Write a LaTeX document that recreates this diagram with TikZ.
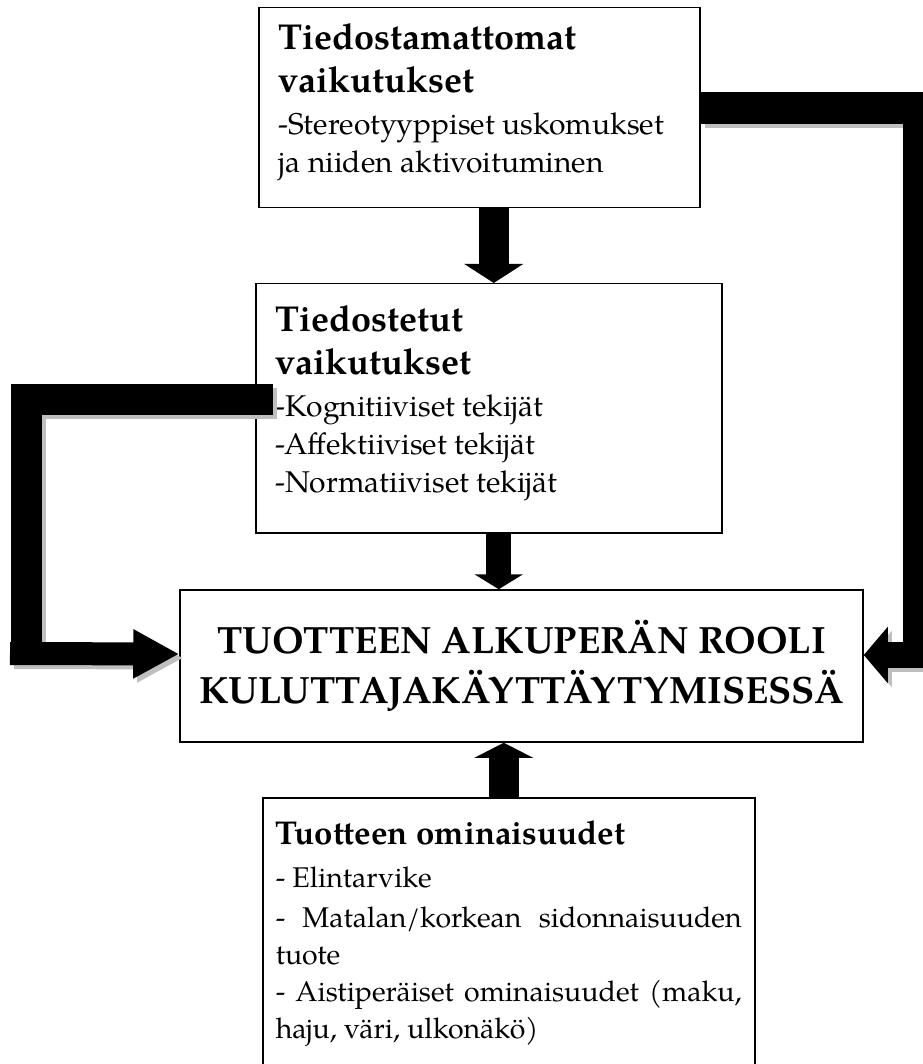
\documentclass[tikz,border=0pt]{standalone}
\usepackage{fontspec}
\setmainfont{TeX Gyre Pagella}
\usetikzlibrary{arrows.meta, positioning, calc}

\newcommand{\headfont}{\fontsize{36}{43}\selectfont\bfseries}
\newcommand{\bodyfont}{\fontsize{30}{38}\selectfont\mdseries}

\begin{document}
\begin{tikzpicture}[
    x=1pt, y=-1pt,
    block/.style={rectangle, draw, line width=1.5pt, anchor=north west, inner xsep=20pt, align=left},
    fat/.style={line width=30pt, -{Triangle[length=19pt, width=58pt]}},
    elbow/.style={line width=31pt, line join=miter}
  ]
  \useasboundingbox (0,0) rectangle (922,1064);

  \node[block, inner ysep=16pt] (unconscious) at (258,7) {\begin{minipage}[t][168pt][t]{401pt}\raggedright
      \headfont Tiedostamattomat\\vaikutukset\par\vspace{4pt}
      \bodyfont -Stereotyyppiset~uskomukset\\ja niiden aktivoituminen\end{minipage}};

  \node[block, inner ysep=22pt] (conscious) at (255,283) {\begin{minipage}[t][205pt][t]{426pt}\raggedright
      \headfont Tiedostetut\\vaikutukset\par\vspace{4pt}
      \bodyfont -Kognitiiviset tekijät\\-Affektiiviset tekijät\\-Normatiiviset tekijät\end{minipage}};

  \node[draw, line width=1.5pt, minimum width=683pt, minimum height=152pt, align=center,
    font=\fontsize{38}{50}\selectfont\bfseries] (core) at (521.5,666)
    {TUOTTEEN ALKUPERÄN ROOLI\\KULUTTAJAKÄYTTÄYTYMISESSÄ};

  \node[block, inner xsep=13pt, inner ysep=23pt] (product) at (262,797) {\begin{minipage}[t][221pt][t]{466pt}
      \hyphenpenalty=10000
      {\fontsize{33}{38}\selectfont\bfseries Tuotteen ominaisuudet\par}\vspace{6pt}
      \fontsize{28.5}{37}\selectfont\mdseries - Elintarvike\par\vspace{3pt}
      - Matalan/korkean sidonnaisuuden\linebreak tuote\par
      - Aistiperäiset ominaisuudet (maku,\linebreak haju, väri, ulkonäkö)\par\end{minipage}};

  % straight arrows
  \draw[fat] ([xshift=14.5pt]unconscious.south) -- ([xshift=14.5pt]unconscious.south |- conscious.north);
  \draw[fat, line width=25pt, -{Triangle[length=15pt, width=48pt]}] ([xshift=10pt]conscious.south) -- ([xshift=10pt]conscious.south |- core.north);
  \draw[fat, -{Triangle[length=15pt, width=58pt]}] ([xshift=-5pt]product.north) -- ([xshift=-5pt]product.north |- core.south);

  % bent arrows with shadow
  \foreach \col/\off in {gray!50/4pt, black/0pt} {
    \begin{scope}[transform canvas={shift={(\off,-\off)}}, color=\col]
      \draw[elbow] ([xshift=18pt, yshift=9pt]conscious.west) -| (26,665);
      \draw[line width=23pt, -{Triangle[length=46pt, width=46pt]}] (10,653.5) -- ([yshift=12pt]core.west);
      \draw[elbow, line width=32pt] (unconscious.east) -| (919,668);
      \draw[line width=26pt, -{Triangle[length=24pt, width=55pt]}] (935,655) -- ([yshift=11pt]core.east);
    \end{scope}
  }
\end{tikzpicture}
\end{document}
